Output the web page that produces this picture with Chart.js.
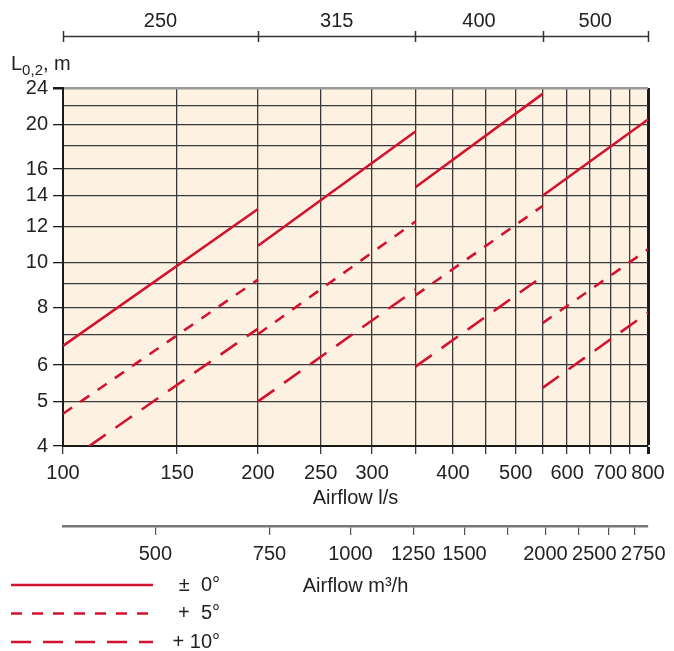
<!DOCTYPE html>
<html>
<head>
<meta charset="utf-8">
<script src="https://cdn.jsdelivr.net/npm/chart.js@4.4.1/dist/chart.umd.min.js"></script>
<style>
  html, body { margin: 0; padding: 0; background: #fff; }
  canvas { display: block; }
</style>
</head>
<body>
<canvas id="chart" width="674" height="651"></canvas>
<script>
// duct sizes and the airflow range (l/s) each one covers
const ductSizes = ['250', '315', '400', '500'];
const flowStart = [100, 200, 350, 550];
const flowEnd   = [200, 350, 550, 800];

// throw length L0,2 (m) at start / end of each duct range
const throw0Start  = [6.6, 10.9, 14.6, 14.0];
const throw0End    = [13.1, 19.3, 23.3, 20.5];
const throw5Start  = [4.7, 7.0, 8.5, 7.4];
const throw5End    = [9.2, 12.3, 13.3, 10.7];
const throw10Start = [3.65, 5.0, 5.95, 5.35];
const throw10End   = [7.2, 8.75, 9.35, 7.8];

const xTicks   = [100, 150, 200, 250, 300, 350, 400, 450, 500, 550, 600, 650, 700, 750, 800];
const xLabels  = [100, 150, 200, 250, 300, 400, 500, 600, 700, 800];
const yTicks   = [4, 5, 6, 7, 8, 9, 10, 12, 14, 16, 18, 20, 22, 24];
const yLabels  = [4, 5, 6, 8, 10, 12, 14, 16, 20, 24];
const m3hTicks  = [500, 750, 1000, 1250, 1500, 1750, 2000, 2250, 2500, 2750];
const m3hLabels = [500, 750, 1000, 1250, 1500, 2000, 2500, 2750];

const RED = '#d2122e';
const FONT = '"Liberation Sans", Arial, sans-serif';
const SIZE = 20;
const SUB = 15;

Chart.defaults.font.family = FONT;
Chart.defaults.font.size = SIZE;
Chart.defaults.color = '#222';

function segments(starts, ends) {
  const pts = [];
  flowStart.forEach((x0, i) => {
    if (i) pts.push({ x: x0, y: null });
    pts.push({ x: x0, y: starts[i] }, { x: flowEnd[i], y: ends[i] });
  });
  return pts;
}

const fixedTicks = list => scale => { scale.ticks = list.map(v => ({ value: v })); };

const plotBg = {
  id: 'plotBg',
  beforeDraw(chart) {
    const { ctx, chartArea: a } = chart;
    ctx.save();
    ctx.fillStyle = '#fdf2e2';
    ctx.fillRect(a.left, a.top, a.right - a.left, a.bottom - a.top);
    ctx.restore();
  }
};

const extras = {
  id: 'extras',
  afterDraw(chart) {
    const { ctx } = chart;
    const xs = chart.scales.x;
    ctx.save();
    // duct size axis on top
    ctx.strokeStyle = '#333';
    ctx.lineWidth = 1.5;
    ctx.beginPath();
    ctx.moveTo(xs.left, 36.5);
    ctx.lineTo(xs.right, 36.5);
    const bounds = flowStart.concat(flowEnd[flowEnd.length - 1]);
    bounds.forEach(v => {
      const px = Math.round(xs.getPixelForValue(v)) + 0.5;
      ctx.moveTo(px, 31);
      ctx.lineTo(px, 42);
    });
    ctx.stroke();
    ctx.fillStyle = '#222';
    ctx.font = SIZE + 'px ' + FONT;
    ctx.textAlign = 'center';
    ctx.textBaseline = 'middle';
    ductSizes.forEach((s, i) => {
      const mid = Math.sqrt(flowStart[i] * flowEnd[i]);
      ctx.fillText(s, xs.getPixelForValue(mid), 21);
    });

    // y title L0,2, m
    ctx.textAlign = 'left';
    ctx.textBaseline = 'alphabetic';
    ctx.fillText('L', 11, 70);
    let w = ctx.measureText('L').width + 11;
    ctx.font = SUB + 'px ' + FONT;
    ctx.fillText('0,2', w, 75);
    w += ctx.measureText('0,2').width;
    ctx.font = SIZE + 'px ' + FONT;
    ctx.fillText(', m', w, 70);

    // legend
    chart.data.datasets.forEach((ds, i) => {
      const y = 585 + i * 28.5;
      ctx.strokeStyle = ds.borderColor;
      ctx.lineWidth = ds.borderWidth;
      ctx.setLineDash(ds.borderDash || []);
      ctx.beginPath();
      ctx.moveTo(11, y);
      ctx.lineTo(153, y);
      ctx.stroke();
      ctx.setLineDash([]);
      ctx.fillStyle = '#222';
      ctx.textAlign = 'right';
      ctx.textBaseline = 'middle';
      ctx.fillText(ds.label, 220, y);
    });
    ctx.restore();
  }
};

new Chart(document.getElementById('chart'), {
  type: 'line',
  data: {
    datasets: [
      { label: '\u00b1  0\u00b0', data: segments(throw0Start, throw0End), borderColor: RED, borderWidth: 2.6 },
      { label: '+  5\u00b0', data: segments(throw5Start, throw5End), borderColor: RED, borderWidth: 2.6, borderDash: [11, 10] },
      { label: '+ 10\u00b0', data: segments(throw10Start, throw10End), borderColor: RED, borderWidth: 2.6, borderDash: [20, 12] }
    ]
  },
  options: {
    responsive: false,
    animation: false,
    devicePixelRatio: 1,
    layout: { padding: 0 },
    elements: { point: { radius: 0 }, line: { tension: 0, borderCapStyle: 'butt' } },
    datasets: { line: { spanGaps: false, clip: 0 } },
    plugins: { legend: { display: false }, tooltip: { enabled: false } },
    scales: {
      x: {
        type: 'logarithmic', position: 'bottom', min: 100, max: 800, weight: 0,
        afterBuildTicks: fixedTicks(xTicks),
        afterFit: s => { s.height = 80; },
        ticks: { autoSkip: false, maxRotation: 0, padding: 7, callback: v => xLabels.includes(v) ? String(v) : '' },
        grid: {
          tickLength: 8,
          color: c => c.tick && c.tick.value === 800 ? '#1a1a1a' : '#3a3a3a',
          lineWidth: c => c.tick && c.tick.value === 800 ? 3 : 1.3
        },
        border: { color: '#1a1a1a', width: 2 },
        title: { display: true, text: 'Airflow l/s', padding: { top: 0, bottom: 16 } }
      },
      xm3: {
        type: 'logarithmic', position: 'bottom', min: 360, max: 2880, weight: 1,
        afterBuildTicks: fixedTicks(m3hTicks),
        afterFit: s => { s.height = 125; },
        ticks: {
          autoSkip: false, maxRotation: 0, padding: 7,
          callback: v => {
            if (!m3hLabels.includes(v)) return '';
            if (v === 2500) return '2500\u00a0\u00a0\u00a0\u00a0\u00a0';
            if (v === 2750) return '\u00a0\u00a0\u00a02750';
            return String(v);
          }
        },
        grid: { drawOnChartArea: false, tickLength: 9, color: '#555', lineWidth: 1.2 },
        border: { color: '#777', width: 2.5 },
        title: { display: true, text: 'Airflow m\u00b3/h', padding: { top: 0, bottom: 53 } }
      },
      y: {
        type: 'logarithmic', position: 'left', min: 4, max: 24,
        afterBuildTicks: fixedTicks(yTicks),
        afterFit: s => { s.width = 63; },
        ticks: { autoSkip: false, padding: 5, callback: v => yLabels.includes(v) ? String(v) : '' },
        grid: {
          tickLength: 10,
          tickColor: c => c.tick && yLabels.includes(c.tick.value) ? '#1a1a1a' : 'rgba(0,0,0,0)',
          color: c => c.tick && c.tick.value === 24 ? '#9a9a9a' : '#3a3a3a',
          lineWidth: c => c.tick && c.tick.value === 24 ? 2.5 : 1.3
        },
        border: { color: '#1a1a1a', width: 2 }
      },
      topSpace: {
        type: 'linear', position: 'top', min: 0, max: 1,
        afterFit: s => { s.height = 88; },
        ticks: { display: false }, grid: { display: false }, border: { display: false }
      },
      rightSpace: {
        type: 'linear', position: 'right', min: 0, max: 1,
        afterFit: s => { s.width = 26; },
        ticks: { display: false }, grid: { display: false }, border: { display: false }
      }
    }
  },
  plugins: [plotBg, extras]
});
</script>
</body>
</html>
